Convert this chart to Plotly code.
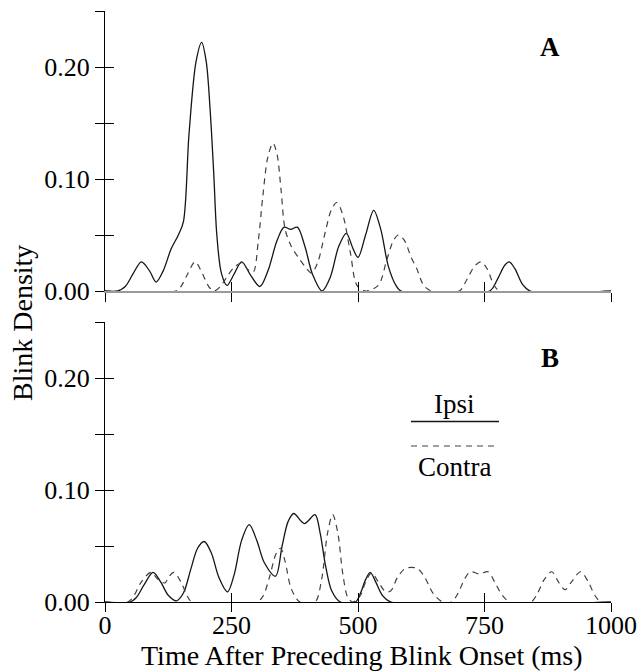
import plotly.graph_objects as go

# ---------------- data ----------------
# Panel A
a_ipsi_x = [0, 25, 40, 55, 72, 88, 101, 115, 131, 145, 155, 166, 180, 191, 200, 208, 215, 221, 230, 241,
            255, 270, 288, 306, 322, 340, 354, 367, 380, 395, 410, 429, 445, 462, 477, 490, 500, 515, 531,
            545, 560, 575, 585, 760, 775, 790, 799, 810, 825, 840, 1000]
a_ipsi_y = [0, 0, 0.004, 0.015, 0.026, 0.018, 0.008, 0.018, 0.038, 0.050, 0.062, 0.140, 0.205, 0.222, 0.205,
            0.160, 0.104, 0.050, 0.016, 0.005, 0.015, 0.026, 0.014, 0.004, 0.018, 0.045, 0.057, 0.055, 0.057,
            0.040, 0.015, 0.0, 0.012, 0.040, 0.0515, 0.038, 0.030, 0.050, 0.072, 0.055, 0.022, 0.005, 0,
            0, 0.010, 0.023, 0.026, 0.020, 0.006, 0, 0]

a_contra_x = [0, 140, 150, 163, 178, 192, 205, 215, 228, 240, 255, 270, 283, 293, 303, 312, 322, 332, 340,
              348, 356, 368, 382, 395, 408, 420, 435, 447, 458, 470, 485, 498, 515, 540, 557, 570, 580, 592,
              605, 616, 630, 645, 700, 715, 730, 743, 755, 768, 780, 1000]
a_contra_y = [0, 0, 0.004, 0.015, 0.026, 0.016, 0.004, 0, 0.004, 0.012, 0.021, 0.025, 0.019, 0.017, 0.045,
              0.085, 0.120, 0.132, 0.122, 0.090, 0.055, 0.040, 0.030, 0.022, 0.016, 0.025, 0.052, 0.072,
              0.079, 0.068, 0.034, 0.005, 0, 0.005, 0.028, 0.045, 0.050, 0.045, 0.030, 0.020, 0.005, 0,
              0, 0.010, 0.022, 0.026, 0.020, 0.006, 0, 0]

# Panel B
b_ipsi_x = [0, 50, 62, 78, 95, 110, 125, 141, 155, 170, 183, 196, 210, 225, 242, 255, 270, 285, 300, 315,
            337, 350, 362, 373, 394, 415, 425, 436, 448, 465, 495, 505, 515, 524, 535, 548, 565, 1000]
b_ipsi_y = [0, 0, 0.004, 0.016, 0.0265, 0.018, 0.006, 0.001, 0.008, 0.030, 0.048, 0.054, 0.044, 0.022,
            0.009, 0.024, 0.055, 0.069, 0.055, 0.035, 0.023, 0.050, 0.072, 0.079, 0.070, 0.078, 0.062,
            0.032, 0.010, 0.0, 0.0, 0.008, 0.020, 0.0265, 0.018, 0.006, 0, 0]

b_contra_x = [0, 45, 55, 72, 91, 105, 118, 127, 136, 150, 162, 172, 300, 312, 325, 338, 347, 356, 368, 385,
              415, 428, 440, 450, 460, 470, 480, 490, 505, 515, 527, 540, 555, 565, 578, 594, 617, 632,
              648, 667, 685, 698, 710, 722, 740, 757, 770, 785, 800, 842, 855, 868, 883, 896, 909, 922,
              940, 955, 968, 980, 1000]
b_contra_y = [0, 0, 0.004, 0.018, 0.0265, 0.020, 0.017, 0.023, 0.0265, 0.018, 0.006, 0, 0, 0.005, 0.022,
              0.043, 0.048, 0.036, 0.012, 0.0, 0.0, 0.020, 0.062, 0.078, 0.062, 0.025, 0.004, 0, 0.006,
              0.018, 0.026, 0.018, 0.009, 0.010, 0.022, 0.030, 0.030, 0.022, 0.008, 0, 0, 0.008, 0.020,
              0.027, 0.025, 0.027, 0.018, 0.006, 0, 0, 0.008, 0.020, 0.027, 0.018, 0.011, 0.018, 0.027,
              0.018, 0.006, 0, 0]

x_ticks = [0, 250, 500, 750, 1000]
y_major = [0.0, 0.10, 0.20]
y_minor = [0.05, 0.15, 0.25]
panel_labels = ["A", "B"]
legend_names = ["Ipsi", "Contra"]
x_title = "Time After Preceding Blink Onset (ms)"
y_title = "Blink Density"

# ---------------- styling ----------------
W, H = 642, 671
FONT = "Liberation Serif, Times New Roman, serif"
SOLID = dict(color="#151515", width=1.3, shape="spline", smoothing=0.9)
DASH = dict(color="#404040", width=1.2, shape="spline", smoothing=0.9, dash="6px,5px")

xdom = [105 / W, 611 / W]
top_dom = [(H - 291) / H, (H - 11) / H]
bot_dom = [(H - 602) / H, (H - 322) / H]

fig = go.Figure()
fig.add_trace(go.Scatter(x=a_ipsi_x, y=a_ipsi_y, mode="lines", line=SOLID, xaxis="x", yaxis="y"))
fig.add_trace(go.Scatter(x=a_contra_x, y=a_contra_y, mode="lines", line=DASH, xaxis="x", yaxis="y"))
fig.add_trace(go.Scatter(x=b_ipsi_x, y=b_ipsi_y, mode="lines", line=SOLID, xaxis="x2", yaxis="y2"))
fig.add_trace(go.Scatter(x=b_contra_x, y=b_contra_y, mode="lines", line=DASH, xaxis="x2", yaxis="y2"))
# empty helper traces so that the overlay (second-half tick) axes get drawn
for xa, ya in [("x3", "y"), ("x", "y3"), ("x4", "y2"), ("x2", "y4")]:
    fig.add_trace(go.Scatter(x=[None], y=[None], mode="lines", xaxis=xa, yaxis=ya,
                             hoverinfo="skip", showlegend=False))

TL = 9
tickfont = dict(family=FONT, size=26, color="black")

def xax(anchor, linecolor, linewidth, labels, ticks, overlay=None):
    d = dict(domain=xdom, anchor=anchor, range=[0, 1000], tickmode="array", tickvals=x_ticks,
             ticks=ticks, ticklen=TL, tickcolor="black", tickwidth=1,
             showticklabels=labels, tickfont=tickfont, showgrid=False, zeroline=False,
             layer="above traces", automargin=False, fixedrange=True)
    if overlay:
        d.update(overlaying=overlay, showline=False)
    else:
        d.update(showline=True, linecolor=linecolor, linewidth=linewidth)
    return d

def yax(anchor, dom, labels, ticks, overlay=None):
    d = dict(domain=dom, anchor=anchor, range=[0, 0.25], tickmode="array", tickvals=y_major,
             ticktext=[f"{v:.2f}" for v in y_major], ticks=ticks, ticklen=TL, tickcolor="black",
             tickwidth=1, showticklabels=labels, tickfont=tickfont, showgrid=False, zeroline=False,
             minor=dict(tickmode="array", tickvals=y_minor, ticks=ticks, ticklen=TL,
                        tickcolor="black", tickwidth=1, showgrid=False),
             layer="above traces", automargin=False, fixedrange=True, ticklabelstandoff=0)
    if overlay:
        d.update(overlaying=overlay, showline=False)
    else:
        d.update(showline=True, linecolor="black", linewidth=1)
    return d

fig.update_layout(
    width=W, height=H, margin=dict(l=0, r=0, t=0, b=0),
    paper_bgcolor="white", plot_bgcolor="rgba(0,0,0,0)", showlegend=False,
    font=dict(family=FONT, color="black"),
    xaxis=xax("y", "#9a9a9a", 2, False, "outside"),
    xaxis3=xax("y", None, None, False, "inside", overlay="x"),
    # bottom: labelled axis has the inside half of the ticks, overlay draws the outside half
    xaxis2=xax("y2", "black", 1, True, "inside"),
    xaxis4=xax("y2", None, None, False, "outside", overlay="x2"),
    yaxis=yax("x", top_dom, True, "outside"),
    yaxis3=yax("x", top_dom, False, "inside", overlay="y"),
    yaxis2=yax("x2", bot_dom, True, "outside"),
    yaxis4=yax("x2", bot_dom, False, "inside", overlay="y2"),
)

def note(text, px, py, size, **kw):
    return dict(text=text, x=px / W, y=1 - py / H, xref="paper", yref="paper",
                xanchor="center", yanchor="middle", showarrow=False,
                font=dict(family=FONT, size=size, color="black"), **kw)

ann = [
    note(f"<b>{panel_labels[0]}</b>", 550, 47, 27),
    note(f"<b>{panel_labels[1]}</b>", 550, 358, 27),
    note(y_title, 22, 323, 28, textangle=-90),
    note(x_title, 361, 655, 28),
    note(legend_names[0], 454, 404, 27),
    note(legend_names[1], 455, 467, 27),
]
fig.update_layout(annotations=ann)

fig.update_layout(shapes=[
    dict(type="line", xref="paper", yref="paper", x0=411 / W, x1=499 / W, y0=1 - 421.5 / H, y1=1 - 421.5 / H,
         line=dict(color="#151515", width=1.3)),
    dict(type="line", xref="paper", yref="paper", x0=411 / W, x1=499 / W, y0=1 - 446 / H, y1=1 - 446 / H,
         line=dict(color="#404040", width=1.2, dash="6px,5px")),
])

fig.write_html("out.html", config={"displayModeBar": False, "staticPlot": True},
               post_script="document.body.style.margin='0';document.body.style.overflow='hidden';")
